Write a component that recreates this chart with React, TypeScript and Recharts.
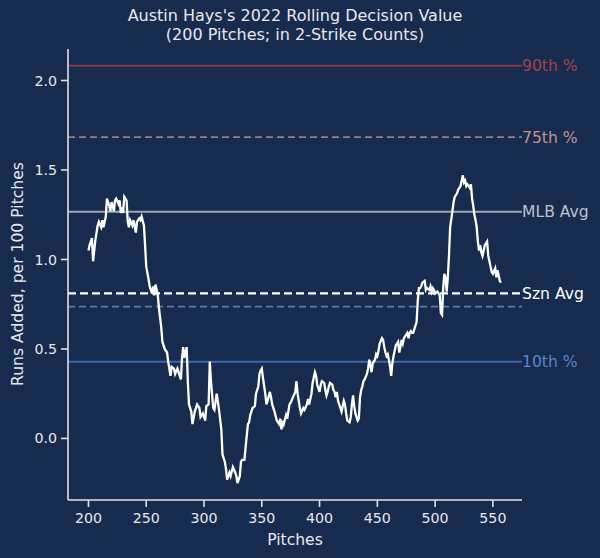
import React from "react";
import { LineChart, Line, XAxis, YAxis, ReferenceLine } from "recharts";

// rolling decision value
const pitches = [
  200, 201, 203, 204, 206, 208, 209, 211, 212, 213, 215, 216, 218, 219, 220, 221, 222, 223, 224, 226,
  227, 228, 229, 230, 231, 233, 234, 235, 236, 238, 239, 241, 242, 244, 245, 246, 248, 249, 250, 252,
  253, 255, 256, 257, 258, 260, 261, 263, 264, 266, 268, 269, 271, 272, 274, 275, 277, 279, 280, 281,
  282, 283, 285, 286, 287, 289, 290, 292, 294, 296, 297, 299, 301, 302, 304, 305, 306, 308, 309, 311,
  313, 315, 316, 318, 319, 320, 322, 323, 325, 327, 328, 329, 331, 332, 333, 335, 336, 338, 339, 340,
  342, 344, 345, 347, 348, 349, 350, 351, 353, 354, 355, 357, 358, 359, 361, 363, 365, 366, 367, 368,
  369, 371, 372, 374, 375, 377, 379, 380, 381, 383, 384, 386, 387, 389, 390, 391, 392, 393, 394, 396,
  397, 398, 399, 400, 401, 402, 404, 405, 406, 407, 408, 409, 411, 412, 413, 414, 415, 416, 418, 419,
  420, 421, 422, 423, 424, 426, 427, 428, 429, 430, 431, 433, 434, 435, 436, 437, 438, 439, 441, 442,
  443, 444, 445, 446, 448, 449, 450, 451, 452, 454, 455, 456, 457, 458, 459, 460, 461, 462, 463, 464,
  465, 466, 468, 469, 470, 471, 472, 473, 474, 476, 477, 478, 479, 480, 481, 483, 484, 485, 486, 487,
  488, 489, 491, 492, 493, 495, 496, 497, 498, 499, 500, 502, 503, 504, 505, 506, 507, 508, 509, 510,
  511, 512, 513, 515, 516, 517, 518, 519, 520, 522, 523, 524, 525, 526, 527, 528, 530, 531, 532, 533,
  534, 535, 536, 537, 538, 539, 540, 541, 542, 543, 545, 546, 547, 548, 549, 550, 552, 553, 554, 555,
  556, 557,
];

const values = [
  1.05, 1.08, 1.12, 0.99, 1.11, 1.19, 1.21, 1.18, 1.22, 1.18, 1.24, 1.34, 1.30, 1.27, 1.32, 1.30, 1.27, 1.33, 1.34, 1.31,
  1.33, 1.26, 1.29, 1.26, 1.35, 1.33, 1.21, 1.18, 1.22, 1.19, 1.22, 1.15, 1.21, 1.23, 1.22, 1.24, 1.19, 1.08, 0.96, 0.89,
  0.85, 0.81, 0.85, 0.80, 0.86, 0.80, 0.73, 0.62, 0.54, 0.50, 0.48, 0.43, 0.35, 0.40, 0.39, 0.36, 0.39, 0.35, 0.33, 0.45,
  0.51, 0.45, 0.51, 0.32, 0.19, 0.15, 0.08, 0.15, 0.19, 0.17, 0.12, 0.14, 0.10, 0.18, 0.19, 0.43, 0.32, 0.17, 0.16, 0.25,
  0.16, 0.05, -0.09, -0.13, -0.17, -0.23, -0.19, -0.21, -0.16, -0.19, -0.21, -0.25, -0.21, -0.13, -0.12, -0.12, -0.05, 0.08, 0.09, 0.13,
  0.17, 0.18, 0.25, 0.29, 0.36, 0.38, 0.39, 0.34, 0.25, 0.19, 0.21, 0.26, 0.23, 0.19, 0.15, 0.10, 0.08, 0.11, 0.05, 0.10,
  0.08, 0.13, 0.11, 0.19, 0.20, 0.23, 0.26, 0.32, 0.25, 0.17, 0.14, 0.17, 0.16, 0.19, 0.22, 0.19, 0.22, 0.25, 0.31, 0.37,
  0.35, 0.30, 0.28, 0.26, 0.30, 0.32, 0.31, 0.27, 0.24, 0.26, 0.29, 0.31, 0.30, 0.27, 0.26, 0.23, 0.26, 0.21, 0.17, 0.15,
  0.18, 0.21, 0.19, 0.14, 0.10, 0.09, 0.12, 0.19, 0.24, 0.18, 0.14, 0.10, 0.11, 0.23, 0.27, 0.29, 0.32, 0.33, 0.36, 0.39,
  0.44, 0.41, 0.37, 0.42, 0.44, 0.47, 0.46, 0.49, 0.53, 0.56, 0.55, 0.51, 0.48, 0.46, 0.47, 0.44, 0.40, 0.35, 0.42, 0.46,
  0.49, 0.52, 0.54, 0.48, 0.51, 0.55, 0.53, 0.56, 0.57, 0.59, 0.56, 0.59, 0.60, 0.59, 0.59, 0.63, 0.65, 0.77, 0.84, 0.84,
  0.85, 0.87, 0.88, 0.83, 0.84, 0.83, 0.85, 0.82, 0.84, 0.83, 0.81, 0.82, 0.81, 0.80, 0.70, 0.69, 0.84, 0.92, 0.90, 0.82,
  0.90, 1.02, 1.18, 1.27, 1.32, 1.35, 1.36, 1.37, 1.39, 1.41, 1.44, 1.47, 1.43, 1.44, 1.41, 1.42, 1.40, 1.42, 1.34, 1.30,
  1.25, 1.22, 1.18, 1.10, 1.05, 1.08, 1.04, 1.02, 1.05, 1.08, 1.10, 1.02, 0.99, 0.96, 0.93, 0.92, 0.95, 0.90, 0.94, 0.91,
  0.88, 0.87,
];

// percentile / average reference levels
const refLabels = ["90th %", "75th %", "MLB Avg", "Szn Avg", "", "10th %"];
const refValues = [2.083, 1.684, 1.267, 0.811, 0.737, 0.429];

const xTicks = [200, 250, 300, 350, 400, 450, 500, 550];
const yTicks = [0.0, 0.5, 1.0, 1.5, 2.0];

const BG = "#172b4f";
const FONT = "'DejaVu Sans', sans-serif";
const TEXT = "#e8e8ec";

const refStyles = [
  { stroke: "#88384a", dash: undefined, width: 2, label: "#a8404c" },
  { stroke: "#9c7c82", dash: "7 4", width: 1.8, label: "#c8918c" },
  { stroke: "#9ea6b6", dash: undefined, width: 2, label: "#bcc2cc" },
  { stroke: "#ffffff", dash: "8 4", width: 2.2, label: "#ffffff" },
  { stroke: "#5f7ba2", dash: "7 4", width: 1.8, label: "#5f7ba2" },
  { stroke: "#3a69ad", dash: undefined, width: 2, label: "#5886c6" },
];

export default function App() {
  const data = pitches.map((p, i) => ({ x: p, v: values[i] }));

  return (
    <div style={{ position: "relative", width: 600, height: 558, background: BG, fontFamily: FONT }}>
      <style>{"body{margin:0}"}</style>
      <div style={{ position: "absolute", left: 0, width: 590, top: 6, textAlign: "center", color: TEXT, fontSize: 16, lineHeight: "19px" }}>
        Austin Hays's 2022 Rolling Decision Value
        <br />
        (200 Pitches; in 2-Strike Counts)
      </div>
      <div style={{ position: "absolute", left: 295, top: 540, transform: "translate(-50%, -50%)", color: TEXT, fontSize: 15.6, whiteSpace: "nowrap" }}>
        Pitches
      </div>
      <div style={{ position: "absolute", left: 18, top: 274, transform: "translate(-50%, -50%) rotate(-90deg)", color: TEXT, fontSize: 15.6, whiteSpace: "nowrap" }}>
        Runs Added, per 100 Pitches
      </div>
      <LineChart width={600} height={558} data={data} margin={{ top: 49, right: 78, bottom: 0, left: 0 }}>
        <XAxis
          dataKey="x"
          type="number"
          domain={[182.3, 575.2]}
          ticks={xTicks}
          allowDataOverflow
          height={58}
          stroke="#e0e0e4"
          strokeWidth={1.6}
          tickSize={7}
          tickMargin={6}
          tick={{ fill: TEXT, fontSize: 14.2, fontFamily: FONT }}
        />
        <YAxis
          type="number"
          domain={[-0.344, 2.176]}
          ticks={yTicks}
          allowDataOverflow
          width={68}
          stroke="#e0e0e4"
          strokeWidth={1.6}
          tickSize={7}
          tickMargin={4}
          tickFormatter={(v: number) => v.toFixed(1)}
          tick={{ fill: TEXT, fontSize: 14.2, fontFamily: FONT }}
        />
        {refValues.map((y, i) => (
          <ReferenceLine
            key={i}
            y={y}
            stroke={refStyles[i].stroke}
            strokeWidth={refStyles[i].width}
            strokeDasharray={refStyles[i].dash}
            label={
              refLabels[i]
                ? { value: refLabels[i], position: "right", offset: 0, fill: refStyles[i].label, fontSize: 15.6, fontFamily: FONT }
                : undefined
            }
          />
        ))}
        <Line
          type="linear"
          dataKey="v"
          stroke="#ffffff"
          strokeWidth={2.3}
          dot={false}
          isAnimationActive={false}
        />
      </LineChart>
    </div>
  );
}
